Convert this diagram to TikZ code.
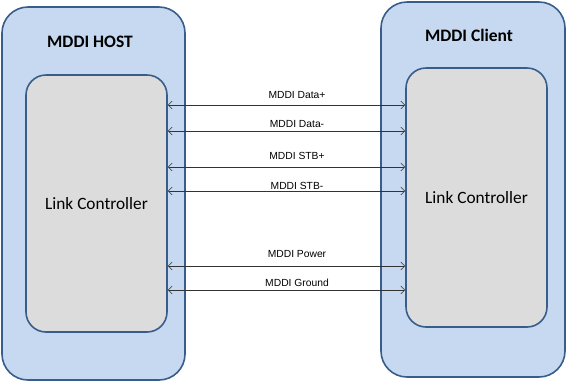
\documentclass[tikz,border=0pt]{standalone}
\usepackage{fontspec}
\setmainfont{Carlito}
\newfontfamily\sigfont{Liberation Sans}
\usepackage{tikz}
\usetikzlibrary{arrows.meta, positioning, calc}
\definecolor{boxblue}{RGB}{198,217,241}
\definecolor{edgeblue}{RGB}{56,93,138}
\definecolor{ctlgray}{RGB}{221,220,220}

\begin{document}
\begin{tikzpicture}[
  x=1pt, y=-1pt,
  outerbox/.style={draw=edgeblue, fill=boxblue, line width=1.6pt, rounded corners=26pt},
  innerbox/.style={draw=edgeblue, fill=ctlgray, line width=1.6pt, rounded corners=20pt,
                   font=\fontsize{17.3}{20}\selectfont},
  title/.style={font=\fontsize{17.5}{20}\selectfont\bfseries},
  sig/.style={font=\sigfont\fontsize{10.3}{12}\selectfont, inner sep=0pt},
  link/.style={{Straight Barb[length=4pt,width=8pt]}-{Straight Barb[length=4pt,width=8pt]}, line width=0.6pt, draw=black!80},
]
  \useasboundingbox (0,0) rectangle (567,384);

  % host side
  \node[outerbox, minimum width=183pt, minimum height=373pt] (host) at (93.5,193.5) {};
  \node[title] (hosttitle) at (90,42) {MDDI HOST};
  \node[innerbox, minimum width=141pt, minimum height=257pt] (hostctl) at (96.5,203.5) {Link Controller};

  % client side
  \node[outerbox, minimum width=184pt, minimum height=375pt] (client) at (473,189.5) {};
  \node[title] (clienttitle) at (469,35) {MDDI Client};
  \node[innerbox, minimum width=141pt, minimum height=259pt] (clientctl) at (476.5,197.5) {Link Controller};

  % signal labels
  \node[sig] (datap) at (297,95)  {MDDI Data+};
  \node[sig] (datam) at (297,124) {MDDI Data-};
  \node[sig] (stbp)  at (297,156) {MDDI STB+};
  \node[sig] (stbm)  at (297,186) {MDDI STB-};
  \node[sig] (pwr)   at (297,254) {MDDI Power};
  \node[sig] (gnd)   at (297,283) {MDDI Ground};

  \coordinate (ydatap) at (0,105);
  \coordinate (ydatam) at (0,131);
  \coordinate (ystbp)  at (0,167);
  \coordinate (ystbm)  at (0,191);
  \coordinate (ypwr)   at (0,266);
  \coordinate (ygnd)   at (0,290);

  \draw[link] (hostctl.east |- ydatap) -- (clientctl.west |- ydatap);
  \draw[link] (hostctl.east |- ydatam) -- (clientctl.west |- ydatam);
  \draw[link] (hostctl.east |- ystbp)  -- (clientctl.west |- ystbp);
  \draw[link] (hostctl.east |- ystbm)  -- (clientctl.west |- ystbm);
  \draw[link] (hostctl.east |- ypwr)   -- (clientctl.west |- ypwr);
  \draw[link] (hostctl.east |- ygnd)   -- (clientctl.west |- ygnd);
\end{tikzpicture}
\end{document}
